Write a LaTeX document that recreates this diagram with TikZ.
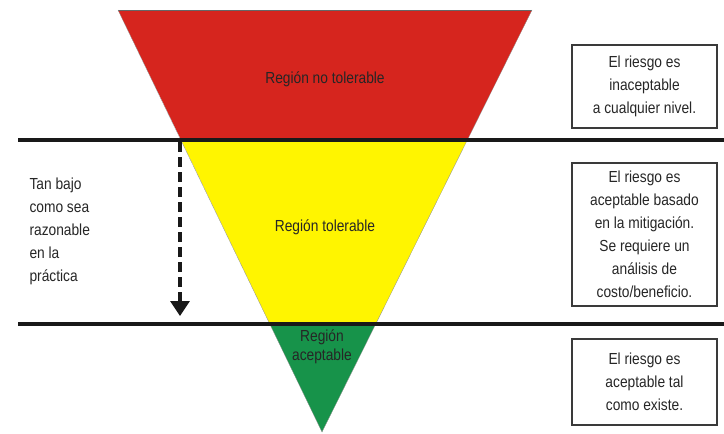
\documentclass[tikz,border=0pt]{standalone}
\usepackage{fontspec}
\setmainfont[FakeStretch=0.86]{Liberation Sans}
\usetikzlibrary{arrows.meta}
\definecolor{rred}{HTML}{D6251E}
\definecolor{ryel}{HTML}{FFF500}
\definecolor{rgrn}{HTML}{17934A}
\definecolor{bord}{HTML}{3A3A3A}
\tikzset{
  lbl/.style={font=\fontsize{16}{18}\selectfont, text=black!85},
  riskbox/.style={draw=bord, line width=1.1pt, minimum width=145pt, align=center, inner sep=0pt,
     font=\fontsize{16}{23}\selectfont, text=black!85},
  sep/.style={line width=3.6pt, black!90},
  zone/.style={draw=black!60, line width=0.4pt}
}
\begin{document}
\begin{tikzpicture}[x=1pt,y=-1pt]
\useasboundingbox (0,0) rectangle (724,434);
% triangle layers
\coordinate (TL) at (118,10);
\coordinate (TR) at (532,10);
\coordinate (ML1) at (181.1,140);
\coordinate (MR1) at (467.3,140);
\coordinate (ML2) at (269.8,324);
\coordinate (MR2) at (375.7,324);
\coordinate (AP) at (322,432);
\fill[rred] (TL) -- (TR) -- (MR1) -- (ML1) -- cycle;
\fill[ryel] (ML1) -- (MR1) -- (MR2) -- (ML2) -- cycle;
\fill[rgrn] (ML2) -- (MR2) -- (AP) -- cycle;
\draw[zone] (TL) -- (TR);
\draw[black!45, line width=0.3pt] (TL) -- (AP) -- (TR);
% separators
\coordinate (S1a) at (18,140);
\coordinate (S1b) at (724,140);
\coordinate (S2a) at (18,324);
\coordinate (S2b) at (724,324);
\draw[sep] (S1a) -- (S1b);
\draw[sep] (S2a) -- (S2b);
% region labels
\node[lbl] (r1) at (325,79) {Región no tolerable};
\node[lbl] (r2) at (325,227) {Región tolerable};
\node[lbl, align=center, font=\fontsize{16}{18.5}\selectfont] (r3) at (322,347) {Región\\aceptable};
% dashed arrow
\coordinate (A1) at (180,142);
\coordinate (A2) at (180,316);
\draw[line width=3.4pt, black!90, dash pattern=on 10pt off 5pt, -{Triangle[width=19pt,length=15pt]}] (A1) -- (A2);
% left text
\node[lbl, align=left, anchor=west, font=\fontsize{16}{23}\selectfont] (alarp) at (26,231)
  {Tan bajo\\como sea\\razonable\\en la\\práctica};
% right boxes
\node[riskbox, minimum height=83pt] (b1) at (644.5,86.5) {El riesgo es\\inaceptable\\a cualquier nivel.};
\node[riskbox, minimum height=143pt] (b2) at (644.5,234.5) {El riesgo es\\aceptable basado\\en la mitigación.\\Se requiere un\\análisis de\\costo/beneficio.};
\node[riskbox, minimum height=86pt] (b3) at (644.5,382) {El riesgo es\\aceptable tal\\como existe.};
\end{tikzpicture}
\end{document}
